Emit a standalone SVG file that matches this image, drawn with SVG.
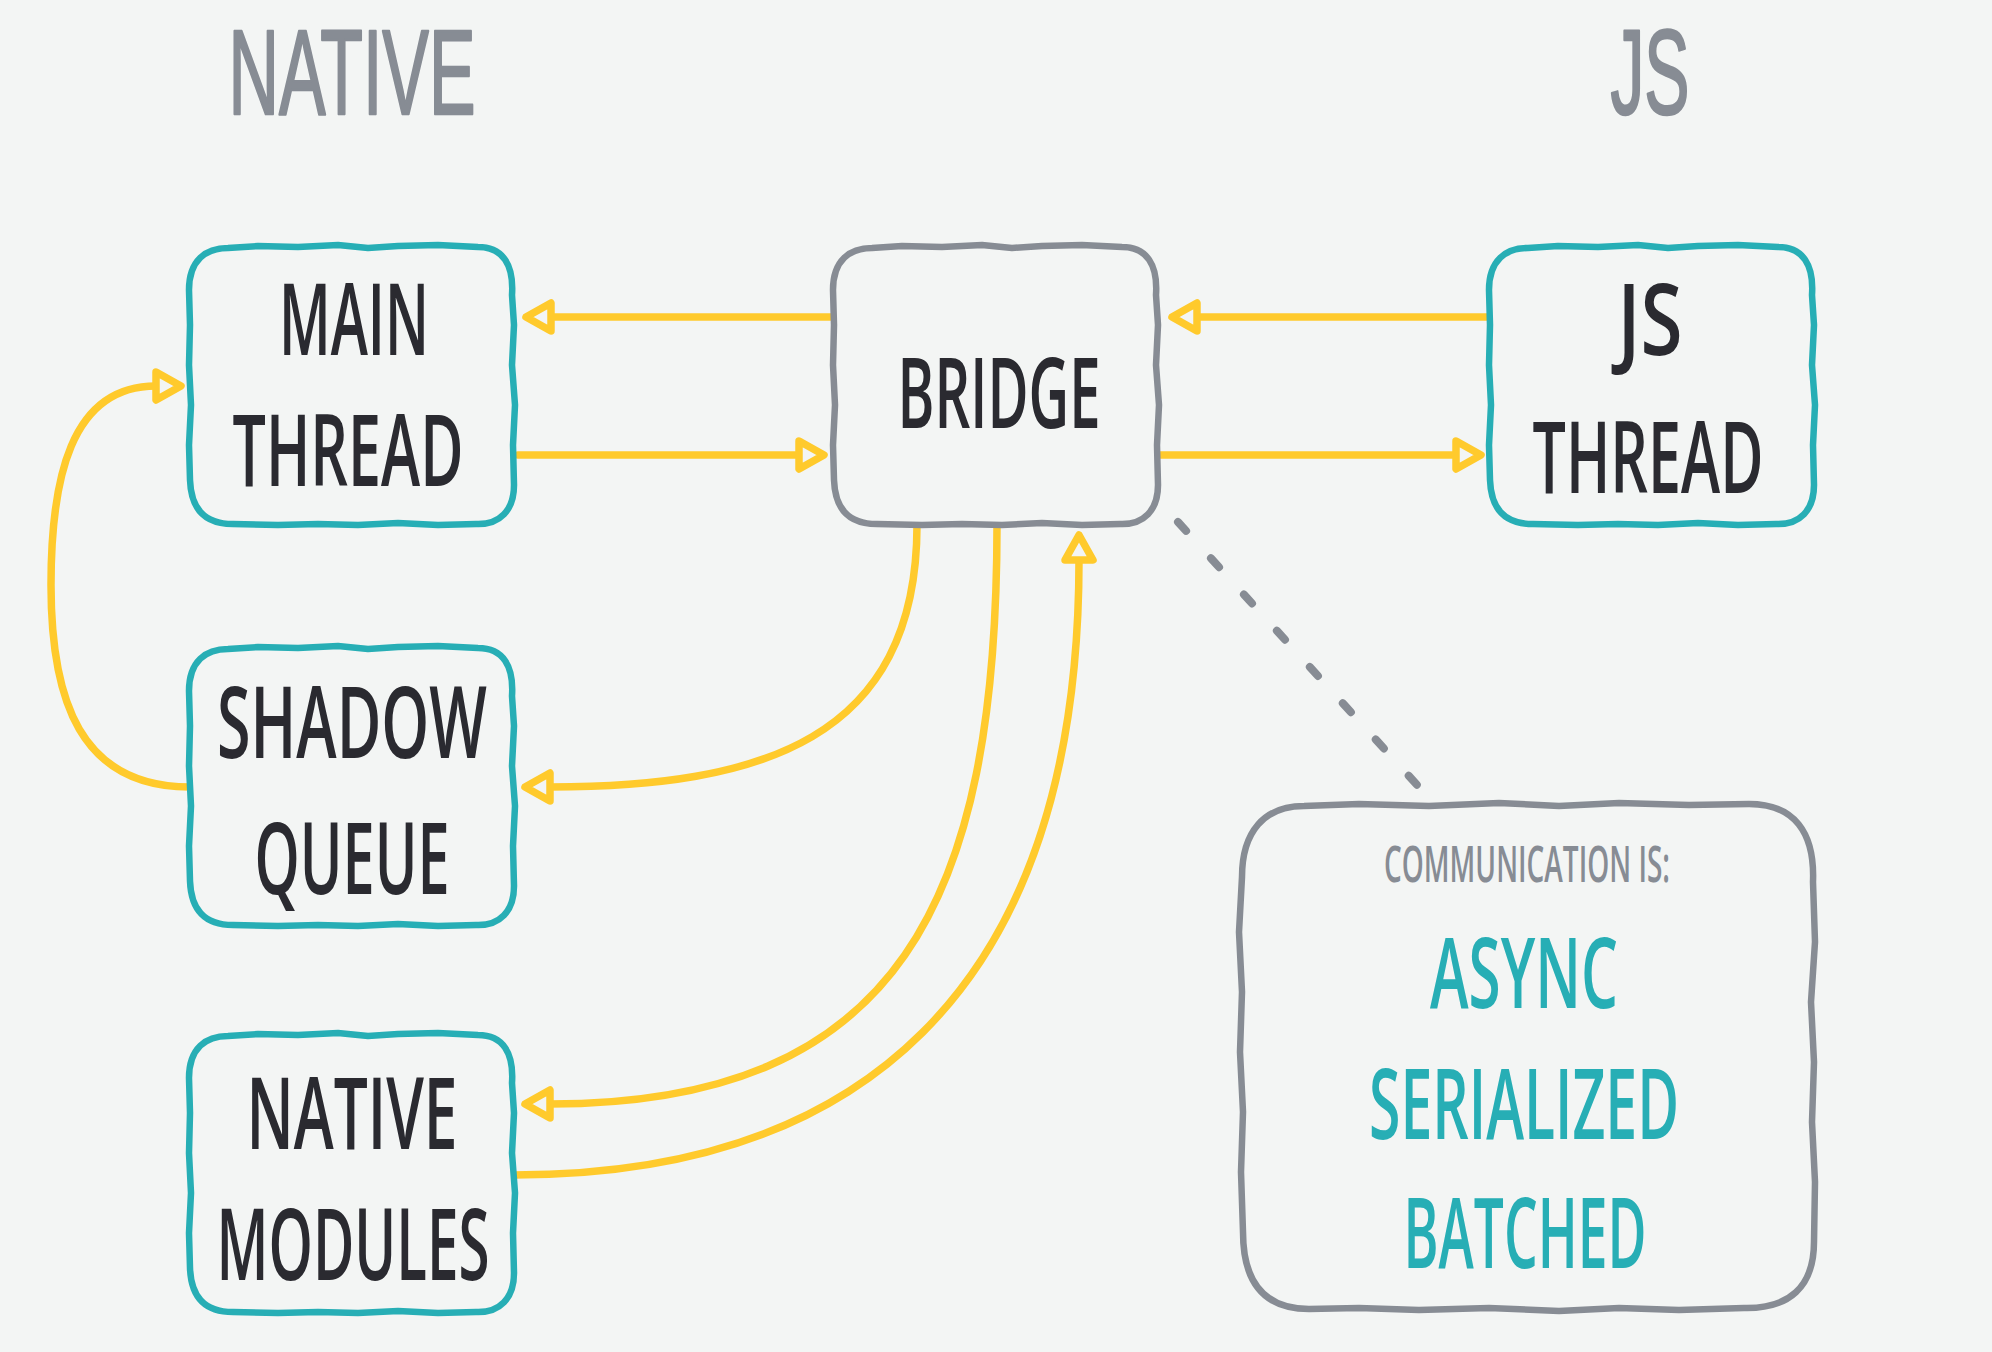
<svg xmlns="http://www.w3.org/2000/svg" xmlns:xlink="http://www.w3.org/1999/xlink" width="1992" height="1352" viewBox="0 0 1992 1352">
<style>
.bg{fill:#f3f5f4}
.box{fill:#f3f5f4;stroke-width:6.5;stroke-linejoin:round;stroke-linecap:round}
.teal{stroke:#27aeb5}
.gray{stroke:#878c94}
.t{font-family:"Open Sans","Liberation Sans",Arial,sans-serif;font-weight:600;text-anchor:middle}
.l{font-family:"Liberation Sans",Arial,sans-serif;font-weight:400;text-anchor:middle;stroke:#878c94;stroke-width:2.5;stroke-linejoin:round}
.dark{fill:#2a2a30}
.tt{fill:#27aeb5}
.tg{fill:#878c94}
.link{fill:none;stroke:#ffca2c;stroke-width:7.5;stroke-linecap:round;stroke-linejoin:round}
.dots{fill:none;stroke:#878c94;stroke-width:8;stroke-linecap:round;stroke-dasharray:12 37}
</style>
<defs>
<path id="sbox" d="M 40 3 L 70 1 L 110 2 L 150 0 L 180 3 L 210 1 L 250 0 L 290 2 C 315 2 326 20 324 50 L 326 80 L 324 120 L 327 160 L 325 200 L 326 240 C 326 265 312 280 288 279 L 250 280 L 210 278 L 170 280 L 130 279 L 90 280 L 45 279 C 15 279 3 262 2 235 L 1 200 L 3 160 L 1 120 L 2 80 L 1 45 C 1 15 18 3 40 3 Z"/>
<marker id="ah" markerUnits="userSpaceOnUse" viewBox="-8 -20 40 40" markerWidth="40" markerHeight="40" refX="0" refY="0" orient="auto" overflow="visible">
<path d="M0,-14 L25,0 L0,14 Z" fill="#f3f5f4" stroke="#ffca2c" stroke-width="7.5" stroke-linejoin="round"/>
</marker>
</defs>
<rect class="bg" x="0" y="0" width="1992" height="1352"/>

<g id="titles">
<text class="l tg" x="352" y="114" font-size="120" textLength="247" lengthAdjust="spacingAndGlyphs">NATIVE</text>
<text class="l tg" x="1650" y="114" font-size="120" textLength="79" lengthAdjust="spacingAndGlyphs">JS</text>
</g>

<g id="connectors">
<path class="link" d="M 835 317 L 551 317" marker-end="url(#ah)"/>
<path class="link" d="M 518 455 L 799 455" marker-end="url(#ah)"/>
<path class="link" d="M 1490 317 L 1197 317" marker-end="url(#ah)"/>
<path class="link" d="M 1160 455 L 1456 455" marker-end="url(#ah)"/>
<path class="link" d="M 190 787 C 80 787 51 700 51 585 C 51 480 70 386 156 386" marker-end="url(#ah)"/>
<path class="link" d="M 917 525 C 917 740 760 787 550 787" marker-end="url(#ah)"/>
<path class="link" d="M 997 525 C 997 900 900 1104 550 1104" marker-end="url(#ah)"/>
<path class="link" d="M 514 1175 C 850 1175 1079 1000 1079 560" marker-end="url(#ah)"/>
<path class="dots" d="M 1178 522 L 1418 786"/>
</g>

<g id="main-thread">
<use xlink:href="#sbox" href="#sbox" class="box teal" transform="translate(188,245)"/>
<text class="t dark" x="354" y="355" font-size="100" textLength="150" lengthAdjust="spacingAndGlyphs">MAIN</text>
<text class="t dark" x="348" y="486" font-size="100" textLength="231" lengthAdjust="spacingAndGlyphs">THREAD</text>
</g>

<g id="bridge">
<use xlink:href="#sbox" href="#sbox" class="box gray" transform="translate(832,245)"/>
<text class="t dark" x="999" y="428" font-size="98" textLength="203" lengthAdjust="spacingAndGlyphs">BRIDGE</text>
</g>

<g id="js-thread">
<use xlink:href="#sbox" href="#sbox" class="box teal" transform="translate(1488,245)"/>
<text class="t dark" x="1650" y="355" font-size="100" textLength="65" lengthAdjust="spacingAndGlyphs">JS</text>
<text class="t dark" x="1648" y="493" font-size="100" textLength="231" lengthAdjust="spacingAndGlyphs">THREAD</text>
</g>

<g id="shadow-queue">
<use xlink:href="#sbox" href="#sbox" class="box teal" transform="translate(188,646)"/>
<text class="t dark" x="352" y="758" font-size="100" textLength="270" lengthAdjust="spacingAndGlyphs">SHADOW</text>
<text class="t dark" x="352" y="894" font-size="100" textLength="195" lengthAdjust="spacingAndGlyphs">QUEUE</text>
</g>

<g id="native-modules">
<use xlink:href="#sbox" href="#sbox" class="box teal" transform="translate(188,1033)"/>
<text class="t dark" x="352" y="1149" font-size="100" textLength="211" lengthAdjust="spacingAndGlyphs">NATIVE</text>
<text class="t dark" x="353" y="1280" font-size="100" textLength="273" lengthAdjust="spacingAndGlyphs">MODULES</text>
</g>

<g id="communication">
<path class="box gray" transform="translate(1239,802)" d="M 65 4 L 120 2 L 190 4 L 260 1 L 320 4 L 380 1 L 450 3 L 510 2 C 555 2 576 30 574 80 L 576 140 L 572 200 L 575 260 L 573 320 L 576 380 L 575 440 C 575 485 550 507 505 506 L 440 508 L 380 506 L 320 509 L 250 506 L 180 508 L 120 506 L 70 507 C 25 507 4 480 4 430 L 2 370 L 4 310 L 1 250 L 3 190 L 0 130 L 3 75 C 3 30 25 4 65 4 Z"/>
<text class="t tg" x="1527" y="882" font-size="50" textLength="286" lengthAdjust="spacingAndGlyphs">COMMUNICATION IS:</text>
<text class="t tt" x="1524" y="1008" font-size="97" textLength="188" lengthAdjust="spacingAndGlyphs">ASYNC</text>
<text class="t tt" x="1524" y="1139" font-size="97" textLength="310" lengthAdjust="spacingAndGlyphs">SERIALIZED</text>
<text class="t tt" x="1525" y="1268" font-size="97" textLength="243" lengthAdjust="spacingAndGlyphs">BATCHED</text>
</g>
</svg>
